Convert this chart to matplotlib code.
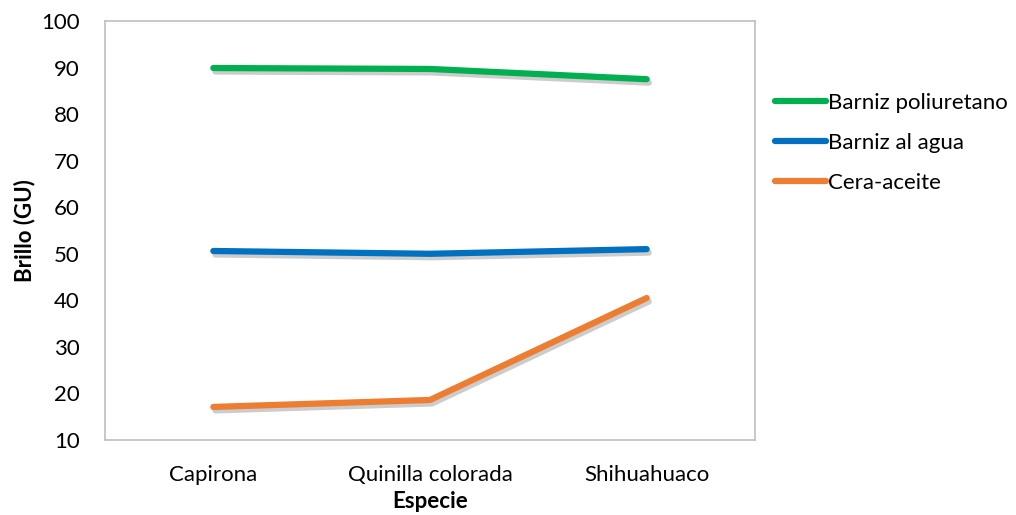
import matplotlib.pyplot as plt
import matplotlib.patheffects as pe

especies = ["Capirona", "Quinilla colorada", "Shihuahuaco"]
barniz_poliuretano = [89.9, 89.7, 87.5]
barniz_agua = [50.6, 50.0, 51.0]
cera_aceite = [17.1, 18.6, 40.5]

plt.rcParams['font.family'] = ['Lato', 'DejaVu Sans']

fig = plt.figure(figsize=(10.16, 5.15), dpi=100)
ax = fig.add_axes([105 / 1016, 1 - 440 / 515, 650 / 1016, 419 / 515])

shadow = [pe.SimpleLineShadow(offset=(1.5, -2.5), shadow_color='gray', alpha=0.4),
          pe.Normal()]

x = range(len(especies))
series = [("Barniz poliuretano", barniz_poliuretano, "#00B050"),
          ("Barniz al agua", barniz_agua, "#0070C0"),
          ("Cera-aceite", cera_aceite, "#ED7D31")]
for name, vals, color in series:
    ax.plot(x, vals, color=color, lw=4.5, solid_capstyle='round',
            solid_joinstyle='round', label=name, path_effects=shadow)

ax.set_xlim(-0.5, 2.5)
ax.set_ylim(10, 100)
ax.set_yticks(range(10, 101, 10))
ax.set_xticks(list(x))
ax.set_xticklabels(especies)
ax.tick_params(length=0, labelsize=16, colors='black')
ax.tick_params(axis='x', pad=18)
ax.tick_params(axis='y', pad=18)

for s in ax.spines.values():
    s.set_color('#BFBFBF')
    s.set_linewidth(1.2)

ax.set_xlabel("Especie", fontsize=16, fontweight='bold', labelpad=4)
ax.set_ylabel("Brillo (GU)", fontsize=16, fontweight='bold', labelpad=4)

leg = ax.legend(loc='upper left', bbox_to_anchor=(1.0, 0.877), frameon=False,
                fontsize=16, handlelength=2.3, handletextpad=0.1, labelspacing=0.9)
for h in leg.get_lines():
    h.set_path_effects([])

fig.savefig("out.png", dpi=100)
